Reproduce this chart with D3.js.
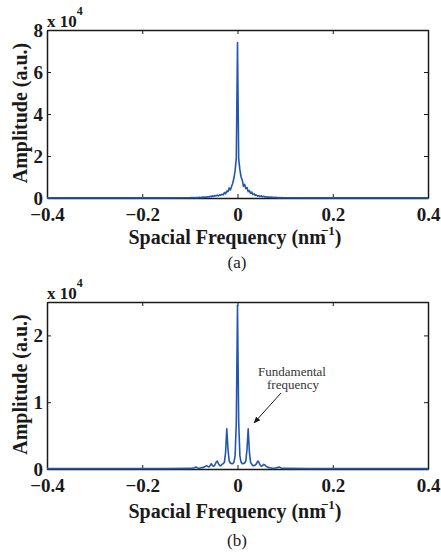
<!DOCTYPE html>
<html>
<head>
<meta charset="utf-8">
<script src="https://cdn.jsdelivr.net/npm/d3@7/dist/d3.min.js"></script>
<style>
  html, body { margin: 0; padding: 0; background: #fff; }
  svg { display: block; }
  svg text { font-family: "Liberation Serif", "DejaVu Serif Condensed", "DejaVu Serif", serif !important; }
</style>
</head>
<body>
<svg id="chart" width="441" height="554"></svg>
<script>
// Spatial frequency grid (nm^-1)
const freq = [-0.4, -0.3, -0.2, -0.15,
  -0.1000, -0.0975, -0.0950, -0.0925, -0.0900, -0.0875, -0.0850, -0.0825, -0.0800, -0.0775,
  -0.0750, -0.0725, -0.0700, -0.0675, -0.0650, -0.0625, -0.0600, -0.0575, -0.0550, -0.0525,
  -0.0500, -0.0475, -0.0450, -0.0425, -0.0400, -0.0375, -0.0350, -0.0325, -0.0300, -0.0275,
  -0.0250, -0.0225, -0.0200, -0.0175, -0.0150, -0.0125, -0.0100, -0.0075, -0.0050, -0.0025,
  0,
  0.0025, 0.0050, 0.0075, 0.0100, 0.0125, 0.0150, 0.0175, 0.0200, 0.0225, 0.0250,
  0.0275, 0.0300, 0.0325, 0.0350, 0.0375, 0.0400, 0.0425, 0.0450, 0.0475, 0.0500,
  0.0525, 0.0550, 0.0575, 0.0600, 0.0625, 0.0650, 0.0675, 0.0700, 0.0725, 0.0750,
  0.0775, 0.0800, 0.0825, 0.0850, 0.0875, 0.0900, 0.0925, 0.0950, 0.0975, 0.1000,
  0.15, 0.2, 0.3, 0.4];

// Panel (a) amplitude, in units of 10^4 a.u.
const ampA = [0.005, 0.005, 0.005, 0.008,
  0.01, 0.02, 0.01, 0.02, 0.01, 0.02, 0.02, 0.01, 0.03, 0.02,
  0.03, 0.04, 0.03, 0.05, 0.04, 0.06, 0.05, 0.08, 0.06, 0.10,
  0.07, 0.12, 0.10, 0.14, 0.10, 0.15, 0.13, 0.18, 0.15, 0.26,
  0.20, 0.33, 0.30, 0.48, 0.38, 0.55, 0.70, 0.95, 1.30, 1.90,
  7.40,
  1.85, 1.35, 1.00, 0.85, 0.55, 0.65, 0.45, 0.50, 0.30, 0.35,
  0.22, 0.28, 0.16, 0.20, 0.12, 0.14, 0.09, 0.11, 0.07, 0.10,
  0.06, 0.08, 0.05, 0.06, 0.04, 0.05, 0.03, 0.04, 0.03, 0.03,
  0.02, 0.03, 0.02, 0.01, 0.02, 0.01, 0.02, 0.01, 0.01, 0.01,
  0.008, 0.005, 0.005, 0.005];

// Panel (b) amplitude, in units of 10^4 a.u.
const ampB = [0.005, 0.005, 0.005, 0.005,
  0.01, 0.01, 0.01, 0.015, 0.02, 0.03, 0.02, 0.01, 0.01, 0.015,
  0.02, 0.02, 0.03, 0.04, 0.05, 0.04, 0.03, 0.05, 0.08, 0.05,
  0.04, 0.06, 0.10, 0.12, 0.08, 0.05, 0.05, 0.07, 0.08, 0.10,
  0.25, 0.60, 0.30, 0.12, 0.09, 0.08, 0.08, 0.10, 0.20, 0.70,
  2.45,
  0.70, 0.20, 0.10, 0.08, 0.08, 0.09, 0.12, 0.30, 0.60, 0.25,
  0.10, 0.07, 0.05, 0.05, 0.06, 0.08, 0.12, 0.10, 0.06, 0.04,
  0.05, 0.07, 0.06, 0.04, 0.03, 0.02, 0.02, 0.015, 0.01, 0.01,
  0.01, 0.015, 0.02, 0.02, 0.03, 0.02, 0.01, 0.01, 0.01, 0.01,
  0.005, 0.005, 0.005, 0.005];

const xTicks = [-0.4, -0.2, 0, 0.2, 0.4];
const yTicksA = [0, 2, 4, 6, 8];
const yTicksB = [0, 1, 2];
const xDomain = [-0.4, 0.4];
const yDomainA = [0, 8];
const yDomainB = [0, 2.5];
const xLabel = "Spacial Frequency (nm";
const yLabel = "Amplitude (a.u.)";
const annotationLines = ["Fundamental", "frequency"];

const svg = d3.select("#chart");
const lineColor = "#2256b2";

function drawPanel(opt) {
  const { top, bottom, left, right, amp, yDomain, yTicks, tag, tagY, xLabelY } = opt;
  const x = d3.scaleLinear().domain(xDomain).range([left, right]);
  const y = d3.scaleLinear().domain(yDomain).range([bottom, top]);
  const g = svg.append("g");

  const xa = g.append("g").attr("transform", `translate(0,${bottom})`)
    .call(d3.axisBottom(x).tickValues(xTicks).tickSizeInner(-4).tickSizeOuter(0).tickPadding(9.5)
      .tickFormat(d => d === 0 ? "0" : d3.format(".1f")(d).replace("-", "\u2212")));
  const xt = g.append("g").attr("transform", `translate(0,${top})`)
    .call(d3.axisTop(x).tickValues(xTicks).tickSizeInner(-4).tickSizeOuter(0).tickFormat(""));
  const ya = g.append("g").attr("transform", `translate(${left},0)`)
    .call(d3.axisLeft(y).tickValues(yTicks).tickSizeInner(-4).tickSizeOuter(0).tickPadding(4)
      .tickFormat(d3.format("d")));
  const yr = g.append("g").attr("transform", `translate(${right},0)`)
    .call(d3.axisRight(y).tickValues(yTicks).tickSizeInner(-4).tickSizeOuter(0).tickFormat(""));

  [xa, xt, ya, yr].forEach(a => {
    a.select(".domain").attr("stroke", "#1a1a1a").attr("stroke-width", 1.5);
    a.selectAll(".tick line").attr("stroke", "#1a1a1a").attr("stroke-width", 1);
    a.selectAll("text")
      .attr("font-weight", "bold").attr("font-size", 19).attr("fill", "#1a1a1a");
  });

  const line = d3.line().x((d, i) => x(freq[i])).y(d => y(d));
  g.append("path").datum(amp)
    .attr("fill", "none").attr("stroke", lineColor).attr("stroke-width", 1.6)
    .attr("stroke-linejoin", "round")
    .attr("d", line);

  const ex = g.append("text").attr("x", left).attr("y", top - 3.5)
    .attr("font-weight", "bold").attr("font-size", 17).attr("fill", "#1a1a1a");
  ex.append("tspan").text("x 10");
  ex.append("tspan").attr("dy", -11.5).attr("font-size", 12).text("4");

  g.append("text")
    .attr("transform", `translate(27,${(top + bottom) / 2 - 1}) rotate(-90)`)
    .attr("text-anchor", "middle").attr("font-weight", "bold").attr("font-size", 20)
    .attr("fill", "#1a1a1a").text(yLabel);

  const xl = g.append("text").attr("x", 235).attr("y", xLabelY)
    .attr("text-anchor", "middle").attr("font-weight", "bold").attr("font-size", 20)
    .attr("fill", "#1a1a1a");
  xl.append("tspan").text(xLabel);
  xl.append("tspan").attr("dx", -5).attr("dy", -9).attr("font-size", 13).text("\u22121");
  xl.append("tspan").attr("dy", 9).text(")");

  g.append("text").attr("x", 237).attr("y", tagY).attr("text-anchor", "middle")
    .attr("font-size", 17).attr("fill", "#1a1a1a").text(tag);

  return { x, y, g };
}

drawPanel({ top: 30, bottom: 198, left: 47, right: 428, amp: ampA,
  yDomain: yDomainA, yTicks: yTicksA, tag: "(a)", tagY: 268, xLabelY: 243.5 });

const pb = drawPanel({ top: 302, bottom: 469, left: 47, right: 428, amp: ampB,
  yDomain: yDomainB, yTicks: yTicksB, tag: "(b)", tagY: 546, xLabelY: 518 });

svg.append("defs").append("marker").attr("id", "arr")
  .attr("viewBox", "0 0 10 10").attr("refX", 9).attr("refY", 5)
  .attr("markerWidth", 7).attr("markerHeight", 7).attr("orient", "auto")
  .append("path").attr("d", "M0,1 L10,5 L0,9 Z").attr("fill", "#1a1a1a");

const ann = pb.g.append("text").attr("text-anchor", "middle")
  .attr("font-size", 13).attr("fill", "#333");
ann.append("tspan").attr("x", 292).attr("y", 376).text(annotationLines[0]);
ann.append("tspan").attr("x", 293).attr("y", 389).text(annotationLines[1]);

pb.g.append("line")
  .attr("x1", 281).attr("y1", 393).attr("x2", 254).attr("y2", 423)
  .attr("stroke", "#1a1a1a").attr("stroke-width", 1)
  .attr("marker-end", "url(#arr)");
</script>
</body>
</html>
